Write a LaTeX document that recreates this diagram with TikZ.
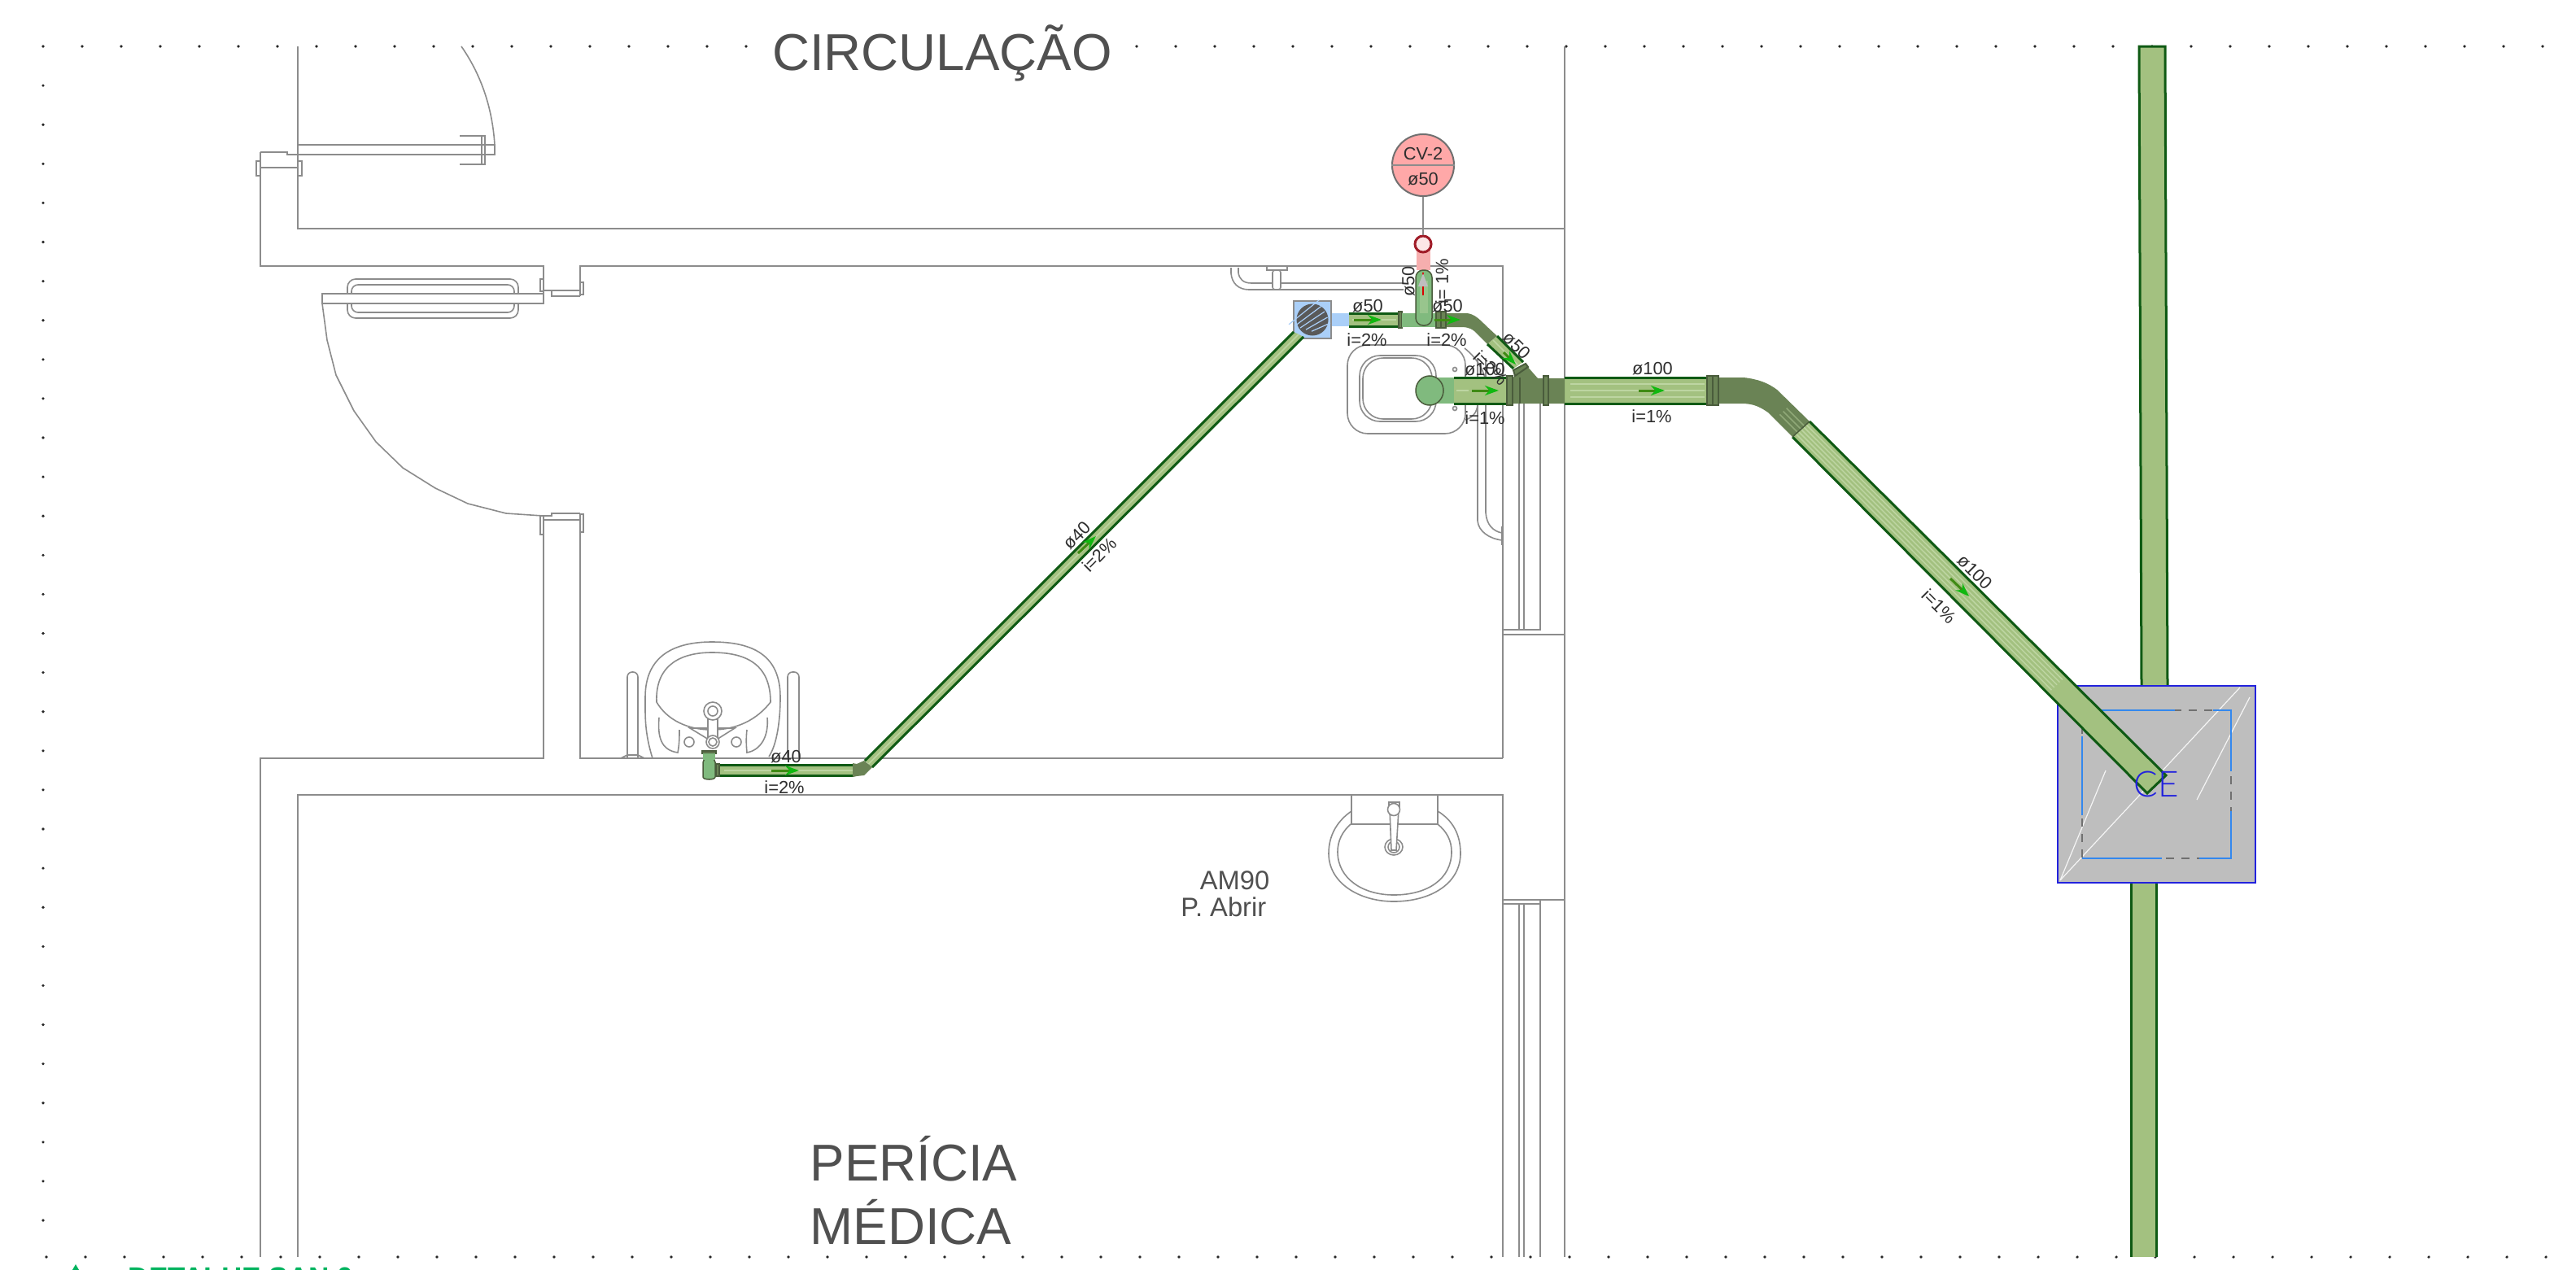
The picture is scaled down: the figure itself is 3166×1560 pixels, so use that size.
\documentclass[tikz,border=0pt]{standalone}
\usepackage{fontspec}
\setmainfont{Liberation Sans}
\newfontfamily\boxfont[UprightFont=* Light]{Lato}
\usepackage{tikz}
\usetikzlibrary{calc,arrows.meta,positioning}
\definecolor{wallgray}{HTML}{8C8C8C}
\definecolor{labeltext}{HTML}{2E2E2E}
\definecolor{roomtext}{HTML}{505050}
\definecolor{pipegreen}{HTML}{A3C180}
\definecolor{pipelight}{HTML}{BDD5A2}
\definecolor{pipedark}{HTML}{0F5A14}
\definecolor{elbowgreen}{HTML}{6A8355}
\definecolor{capgreen}{HTML}{80BA7E}
\definecolor{flowgreen}{HTML}{10B810}
\definecolor{flowstem}{HTML}{3F8A14}
\definecolor{ventred}{HTML}{A01C28}
\definecolor{ventpink}{HTML}{F6AEAE}
\definecolor{tagpink}{HTML}{FFA8A8}
\definecolor{grateblue}{HTML}{AACFF8}
\definecolor{boxblue}{HTML}{2222DD}
\definecolor{innerblue}{HTML}{3388EE}
\definecolor{boxgray}{HTML}{BEBEBE}
\definecolor{titlegreen}{HTML}{00B35E}
\tikzset{
  wall/.style={draw=wallgray,line width=0.02cm},
  fine/.style={draw=wallgray,line width=0.016cm},
  griddot/.style={fill=black!85},
  pipe/.style={fill=pipegreen},
  pipeedge/.style={draw=pipedark,line width=0.03cm},
  stripe/.style={draw=pipelight,line width=0.015cm},
  elbow/.style={fill=elbowgreen},
  coupling/.style={fill=elbowgreen,draw=elbowgreen!70!black,line width=0.015cm},
  pipecap/.style={fill=capgreen,draw=elbowgreen!70!black,line width=0.015cm},
  flow/.style={draw=flowstem,line width=0.03cm,-{Stealth[color=flowgreen,length=0.17cm,width=0.12cm]}},
  dimlabel/.style={font=\fontsize{6.2}{7}\selectfont,text=labeltext,inner sep=0pt},
  midlabel/.style={font=\fontsize{9.3}{11}\selectfont,text=roomtext,inner sep=0pt},
  roomlabel/.style={font=\fontsize{18.1}{20}\selectfont,text=roomtext,inner sep=0pt}
}
\begin{document}
\begin{tikzpicture}[x=0.01cm,y=-0.01cm]
    \useasboundingbox (0,0) rectangle (3166,1560);
    \fill[white] (0,0) rectangle (3166,1560);
    \foreach \k in {0,...,64} {
        \fill[griddot] (53+\k*48,57) circle (0.018cm);
        \fill[griddot] (57+\k*48,1545) circle (0.018cm);
    }
    \foreach \k in {1,...,30} {
        \fill[griddot] (53,57+\k*48.1) circle (0.018cm);
    }
    \draw[wall] (366,57) -- (366,281) -- (1923,281);
    \draw[wall] (1923,57) -- (1923,1545);
    \draw[wall] (320,187) -- (320,327) -- (668,327) -- (668,373);
    \draw[wall] (713,364) -- (713,327) -- (1847,327) -- (1847,932);
    \draw[wall] (668,634) -- (668,932) -- (320,932) -- (320,1545);
    \draw[wall] (713,632) -- (713,932) -- (1847,932);
    \draw[wall] (366,1545) -- (366,977) -- (1847,977) -- (1847,1545);
    \draw[wall] (1847,774) -- (1893,774) -- (1893,496);
    \draw[wall] (1847,780) -- (1923,780);
    \draw[wall] (1867,496) -- (1867,774);
    \draw[wall] (1873,496) -- (1873,774);
    \draw[wall] (1847,1106) -- (1923,1106);
    \draw[wall] (1847,1111) -- (1893,1111);
    \draw[wall] (1867,1111) -- (1867,1545);
    \draw[wall] (1873,1111) -- (1873,1545);
    \draw[wall] (1893,1106) -- (1893,1545);
    % doors
    \draw[fine] (366,178) rectangle (608,190);
    \draw[fine] (567,57) .. controls (590,90) and (605,130) .. (608,178);
    \draw[fine] (565,167) -- (596,167) -- (596,202) -- (565,202);
    \draw[fine] (592,167) -- (592,202);
    \draw[fine] (586,178) -- (602,178) (586,190) -- (602,190);
    \draw[fine] (320,187) -- (353,187) -- (353,190) -- (366,190);
    \draw[fine] (320,206) -- (366,206);
    \draw[fine] (315,198) rectangle (320,216);
    \draw[fine] (366,198) rectangle (371,216);
    \draw[fine,rounded corners=0.1cm] (427,343) rectangle (637,391);
    \draw[fine,rounded corners=0.08cm] (432,350) rectangle (632,384);
    \draw[fine,fill=white] (396,361) rectangle (668,373);
    \draw[fine] (396,373) -- (402,418) -- (413,461) -- (435,505) -- (462,543) -- (495,575)
        -- (535,600) -- (575,619) -- (622,631) -- (667,634);
    \draw[fine] (668,357) -- (713,357);
    \draw[fine] (668,357) -- (678,357) -- (678,364) -- (713,364);
    \draw[fine] (664,343) rectangle (668,358);
    \draw[fine] (713,347) rectangle (717,362);
    \draw[fine] (668,634) -- (678,634) -- (678,631) -- (713,631);
    \draw[fine] (668,639) -- (713,639);
    \draw[fine] (664,634) rectangle (668,657);
    \draw[fine] (713,632) rectangle (717,654);
    % basin beside the door
    \draw[fine] (802,932) .. controls (792,900) and (793,880) .. (793,857)
        .. controls (793,805) and (830,789) .. (875,789)
        .. controls (925,789) and (959,805) .. (959,857)
        .. controls (959,885) and (955,915) .. (945,930);
    \draw[fine] (807,863) .. controls (805,815) and (840,802) .. (875,802)
        .. controls (915,802) and (947,815) .. (947,863)
        .. controls (930,885) and (905,897) .. (875,897)
        .. controls (845,897) and (820,885) .. (807,863) -- cycle;
    \draw[fine] (810,882) .. controls (808,905) and (812,922) .. (833,925)
        .. controls (835,915) and (835,905) .. (835,897);
    \draw[fine] (918,897) .. controls (917,905) and (917,915) .. (918,925)
        .. controls (935,922) and (945,905) .. (943,882);
    \draw[fine] (847,912) circle (0.06cm);
    \draw[fine] (905,912) circle (0.06cm);
    \draw[fine] (848,895) -- (903,895) -- (876,912) -- cycle;
    \draw[fine,fill=white] (870,874) rectangle (882,912);
    \draw[fine,fill=white] (876,874) circle (0.11cm);
    \draw[fine] (876,874) circle (0.06cm);
    \draw[fine,fill=white] (876,912) circle (0.08cm);
    \draw[fine] (876,912) circle (0.05cm);
    \draw[fine,rounded corners=0.06cm] (771,932) -- (771,826) -- (784,826) -- (784,932);
    \draw[fine,rounded corners=0.06cm] (968,932) -- (968,826) -- (982,826) -- (982,932);
    \draw[fine] (763,932) -- (771,928) -- (784,928) -- (792,932);
    % basin in the lower room
    \draw[fine] (1661,977) rectangle (1767,1013);
    \draw[fine] (1661,997) .. controls (1645,1008) and (1633,1025) .. (1633,1049)
        .. controls (1633,1085) and (1670,1108) .. (1713,1108)
        .. controls (1760,1108) and (1795,1085) .. (1795,1049)
        .. controls (1795,1025) and (1785,1008) .. (1767,997);
    \draw[fine] (1660,1013) .. controls (1650,1022) and (1644,1033) .. (1644,1047)
        .. controls (1644,1080) and (1675,1100) .. (1713,1100)
        .. controls (1755,1100) and (1784,1080) .. (1784,1047)
        .. controls (1784,1033) and (1778,1022) .. (1767,1013);
    \draw[fine] (1713,1041) ellipse (0.11cm and 0.1cm);
    \draw[fine] (1713,1041) ellipse (0.07cm and 0.07cm);
    \draw[fine,fill=white] (1708,995) -- (1710,1045) -- (1716,1045) -- (1719,995) -- cycle;
    \draw[fine] (1707,986) rectangle (1720,995);
    \draw[fine,fill=white] (1713,995) circle (0.075cm);
    % fixtures by the drain
    \draw[fine] (1513,329) -- (1513,336) .. controls (1514,348) and (1522,356) .. (1535,356) -- (1725,356);
    \draw[fine] (1522,329) -- (1522,335) .. controls (1523,343) and (1528,348) .. (1538,348) -- (1725,348);
    \draw[fine] (1509,327) -- (1526,327);
    \draw[fine,fill=white] (1557,327) rectangle (1582,332);
    \draw[fine,fill=white,rounded corners=0.03cm] (1564,332) rectangle (1574,356);
    \draw[fine,rounded corners=0.25cm] (1656,424) rectangle (1801,533);
    \draw[fine,rounded corners=0.25cm] (1671,437) rectangle (1765,518);
    \draw[fine,rounded corners=0.25cm] (1675,440) rectangle (1760,515);
    \draw[fine] (1788,454) circle (0.025cm);
    \draw[fine] (1788,502) circle (0.025cm);
    \draw[fine] (1800,428) .. controls (1815,440) and (1824,455) .. (1826,470);
    \draw[fine] (1816,496) .. controls (1816,508) and (1808,514) .. (1801,516);
    \draw[fine] (1816,440) -- (1816,640) .. controls (1817,653) and (1830,662) .. (1846,664);
    \draw[fine] (1826,440) -- (1826,630) .. controls (1827,645) and (1835,653) .. (1846,655);
    \draw[draw=wallgray,line width=0.03cm] (1846,647) -- (1846,670);
    % soil stack
    \fill[pipe] (2629,57) -- (2661,57) -- (2664,843) -- (2632,843) -- cycle;
    \draw[pipeedge] (2632,843) -- (2629,57) -- (2661,57) -- (2664,843);
    \fill[pipe] (2619,1085) rectangle (2650,1545);
    \draw[pipeedge] (2619,1545) -- (2619,1085);
    \draw[pipeedge] (2650,1545) -- (2650,1085);
    % inspection box
    \draw[boxblue,fill=boxgray,line width=0.025cm] (2529,843) rectangle (2772,1085);
    \draw[white!85!boxgray,line width=0.012cm] (2532,1082) -- (2753,845);
    \draw[white!85!boxgray,line width=0.012cm] (2532,1082) -- (2588,947);
    \draw[white!85!boxgray,line width=0.012cm] (2765,857) -- (2700,983);
    \draw[wallgray!80!black,line width=0.02cm,dash pattern=on 0.1cm off 0.09cm] (2559,873) rectangle (2742,1055);
    \draw[innerblue,line width=0.02cm] (2576,873) -- (2673,873) (2720,873) -- (2742,873) -- (2742,948)
        (2742,997) -- (2742,1055) -- (2703,1055) (2657,1055) -- (2559,1055) (2559,1002) -- (2559,905);
    % long diagonal of the 100 line
    \coordinate (bigU) at (2224,518);
    \coordinate (bigL) at (2203,537);
    \coordinate (endU) at (2662,953);
    \coordinate (endL) at (2639,975);
    \fill[pipe] (bigU) -- (endU) -- (endL) -- (bigL) -- cycle;
    \foreach \t in {0.2,0.35,0.5,0.65,0.8} {
        \draw[stripe] ($(bigU)!\t!(bigL)$) -- ($($(bigU)!\t!(bigL)$)!0.72!($(endU)!\t!(endL)$)$);
    }
    \draw[pipeedge] (bigU) -- (endU) -- (endL) -- (bigL);
    \fill[elbow] (2112,464) -- (2143,464) .. controls (2160,466) and (2172,470) .. (2184,479) -- (bigU)
        -- (bigL) -- (2173,507) .. controls (2163,500) and (2155,496) .. (2140,496) -- (2112,496) -- cycle;
    \foreach \t in {0.3,0.5,0.7} {
        \draw[stripe,draw opacity=0.45] ($($(bigU)!\t!(bigL)$)+(-22,-22)$) -- ($(bigU)!\t!(bigL)$);
    }
    \draw[elbowgreen!70!black,line width=0.015cm] (bigU) -- (bigL);
    % 100 line, horizontal
    \fill[pipe] (1923,464) rectangle (2098,496);
    \foreach \y in {472,480,488} {
        \draw[stripe] (1930,\y) -- (2095,\y);
    }
    \draw[pipeedge] (1923,464) -- (2098,464) (1923,496) -- (2098,496);
    \draw[coupling] (2098,462) rectangle (2112,498);
    \draw[elbowgreen!70!black,line width=0.015cm] (2105,462) -- (2105,498);
    \fill[elbow] (1859,464) -- (1863,462) -- (1875,448) -- (1890,465) -- (1897,465) -- (1923,465) -- (1923,496) -- (1859,496) -- cycle;
    \draw[coupling] (1897,462) rectangle (1903,498);
    \draw[elbowgreen!70!black,line width=0.015cm] (1868,464) -- (1868,496);
    \fill[pipe] (1787,464) rectangle (1852,496);
    \draw[stripe] (1790,480) -- (1805,480);
    \draw[pipeedge] (1787,464) -- (1852,464) (1787,496) -- (1852,496);
    \draw[coupling] (1852,462) rectangle (1859,498);
    \fill[capgreen] (1757,464) rectangle (1787,496);
    \draw[pipecap] (1757,480) ellipse (0.17cm and 0.18cm);
    % 50 line, elbow and branch
    \fill[elbow] (1768,385) -- (1803,385) .. controls (1812,386) and (1818,392) .. (1826,400) -- (1840,413)
        -- (1828,423) -- (1812,407) .. controls (1806,402) and (1800,402) .. (1795,402) -- (1768,402) -- cycle;
    \fill[pipe] (1840,413) -- (1872,445) -- (1860,453) -- (1828,423) -- cycle;
    \draw[stripe] (1835,418) -- (1866,449);
    \draw[pipeedge] (1840,413) -- (1872,445) (1828,423) -- (1860,453);
    \draw[coupling,line width=0.02cm] (1875,447) -- (1860,455) -- (1862,462) -- (1878,451) -- cycle;
    \draw[flow] (1848,433) -- (1863,448);
    % grate and 50 line
    \fill[grateblue] (1636,385) rectangle (1658,401);
    \fill[pipe] (1658,385) rectangle (1719,401);
    \draw[stripe] (1662,393) -- (1716,393);
    \draw[pipeedge] (1658,385) -- (1719,385) (1658,401) -- (1719,401);
    \draw[coupling] (1719,383) rectangle (1723,403);
    \fill[capgreen] (1723,385) rectangle (1765,402);
    \draw[coupling] (1765,383) rectangle (1771,403);
    \draw[coupling] (1771,383) rectangle (1777,403);
    \draw[wallgray,fill=grateblue,line width=0.02cm] (1590,370) rectangle (1636,416);
    \fill[black!65] (1613,393) circle (0.195cm);
    \foreach \o in {-14,-7,0,7,14} {
        \draw[grateblue,line width=0.012cm] (1598+\o,403+\o*0.3) -- (1628+\o*0.5,383+\o);
    }
    % 40 line
    \coordinate (midU) at (1063,935);
    \coordinate (midL) at (1072,943);
    \coordinate (topU) at (1590,408);
    \coordinate (topL) at (1602,414);
    \fill[pipe] (midU) -- (topU) -- (topL) -- (midL) -- cycle;
    \draw[stripe] ($(midU)!0.5!(midL)$) -- ($(topU)!0.5!(topL)$);
    \draw[pipeedge] (midU) -- (topU) (midL) -- (topL);
    \fill[pipe] (880,940) rectangle (1050,953);
    \draw[stripe] (890,947) -- (1048,947);
    \draw[pipeedge] (880,940) -- (1050,940) (880,953) -- (1050,953);
    \draw[coupling] (880,939) rectangle (884,954);
    \fill[elbow] (1048,938) -- (1053,939) -- (1062,935) -- (1072,943) -- (1062,953) -- (1053,954) -- (1048,955) -- cycle;
    \draw[pipecap,rounded corners=0.05cm] (864,932) -- (864,950) .. controls (864,959) and (879,959) .. (879,950) -- (879,932) -- cycle;
    \draw[coupling] (863,923) rectangle (880,926);
    \fill[capgreen] (864,926) rectangle (879,934);
    % vent
    \fill[ventpink] (1741,300) rectangle (1758,332);
    \draw[pipecap,rounded corners=0.09cm] (1740,332) rectangle (1760,400);
    \fill[pipelight!40!capgreen] (1745,345) rectangle (1755,385);
    \draw[red!85!black,line width=0.025cm] (1749,335) -- (1749,363);
    \fill[boxgray] (1749,336) -- (1755,352) -- (1743,352) -- cycle;
    \node[circle,draw=ventred,fill=white!70!ventpink,line width=0.03cm,minimum size=0.2cm,inner sep=0pt] (ventcap) at (1749,300) {};
    \node[circle,draw=wallgray!80!black,fill=tagpink,line width=0.02cm,minimum size=0.76cm,inner sep=0pt] (cvtag) at (1749,203) {};
    \draw[wall] (cvtag.west) -- (cvtag.east);
    \draw[wall] (cvtag) -- (ventcap);
    % flow arrows
    \draw[flow] (1664,393) -- (1698,393);
    \draw[flow] (1763,393) -- (1795,393);
    \draw[flow] (1809,480) -- (1842,480);
    \draw[flow] (2014,480) -- (2046,480);
    \draw[flow] (2397,711) -- (2420,733);
    \draw[flow] (1325,680) -- (1347,659);
    \draw[flow] (948,947) -- (982,947);
    % labels
    \node[dimlabel] (cvname) at (1749,189) {CV-2};
    \node[dimlabel] (cvdiam) at (1749,220) {ø50};
    \node[dimlabel] (dgrate) at (1681,376) {ø50};
    \node[dimlabel] (igrate) at (1680,418) {i=2\%};
    \node[dimlabel] (dtee) at (1779,376) {ø50};
    \node[dimlabel] (itee) at (1778,418) {i=2\%};
    \node[dimlabel,rotate=90] (dvent) at (1731,346) {ø50};
    \node[dimlabel,rotate=90] (ivent) at (1772,346) {i= 1\%};
    \node[dimlabel,rotate=-45] (dbranch) at (1864,425) {ø50};
    \node[dimlabel,rotate=-45] (ibranch) at (1832,452) {i=2\%};
    \node[dimlabel] (dbasin) at (1825,454) {ø100};
    \node[dimlabel] (ibasin) at (1825,514) {i=1\%};
    \node[dimlabel] (dmain) at (2031,453) {ø100};
    \node[dimlabel] (imain) at (2030,512) {i=1\%};
    \node[dimlabel,rotate=-45] (ddiag) at (2427,703) {ø100};
    \node[dimlabel,rotate=-45] (idiag) at (2383,745) {i=1\%};
    \node[dimlabel,rotate=45] (dforty) at (1324,658) {ø40};
    \node[dimlabel,rotate=45] (iforty) at (1351,682) {i=2\%};
    \node[dimlabel] (dsink) at (966,930) {ø40};
    \node[dimlabel] (isink) at (964,968) {i=2\%};
    \node[font=\boxfont\fontsize{12.5}{14}\selectfont,text=boxblue,inner sep=0pt] (cename) at (2650,964) {CE};
    \node[roomlabel,fill=white] (circ) at (1158,65) {CIRCULAÇÃO};
    \node[roomlabel,anchor=west] (pericia) at (995,1424) {PERÍCIA};
    \node[roomlabel,anchor=west] (medica) at (995,1502) {MÉDICA};
    \node[midlabel,anchor=east] (amcode) at (1561,1082) {AM90};
    \node[midlabel,anchor=east] (doorkind) at (1557,1115) {P. Abrir};
    \fill[titlegreen] (93,1554) -- (72,1590) -- (114,1590) -- cycle;
    \node[font=\bfseries\fontsize{10}{12}\selectfont,text=titlegreen,anchor=north west,inner sep=0pt] (detail) at (157,1557) {DETALHE SAN 0};
\end{tikzpicture}
\end{document}
